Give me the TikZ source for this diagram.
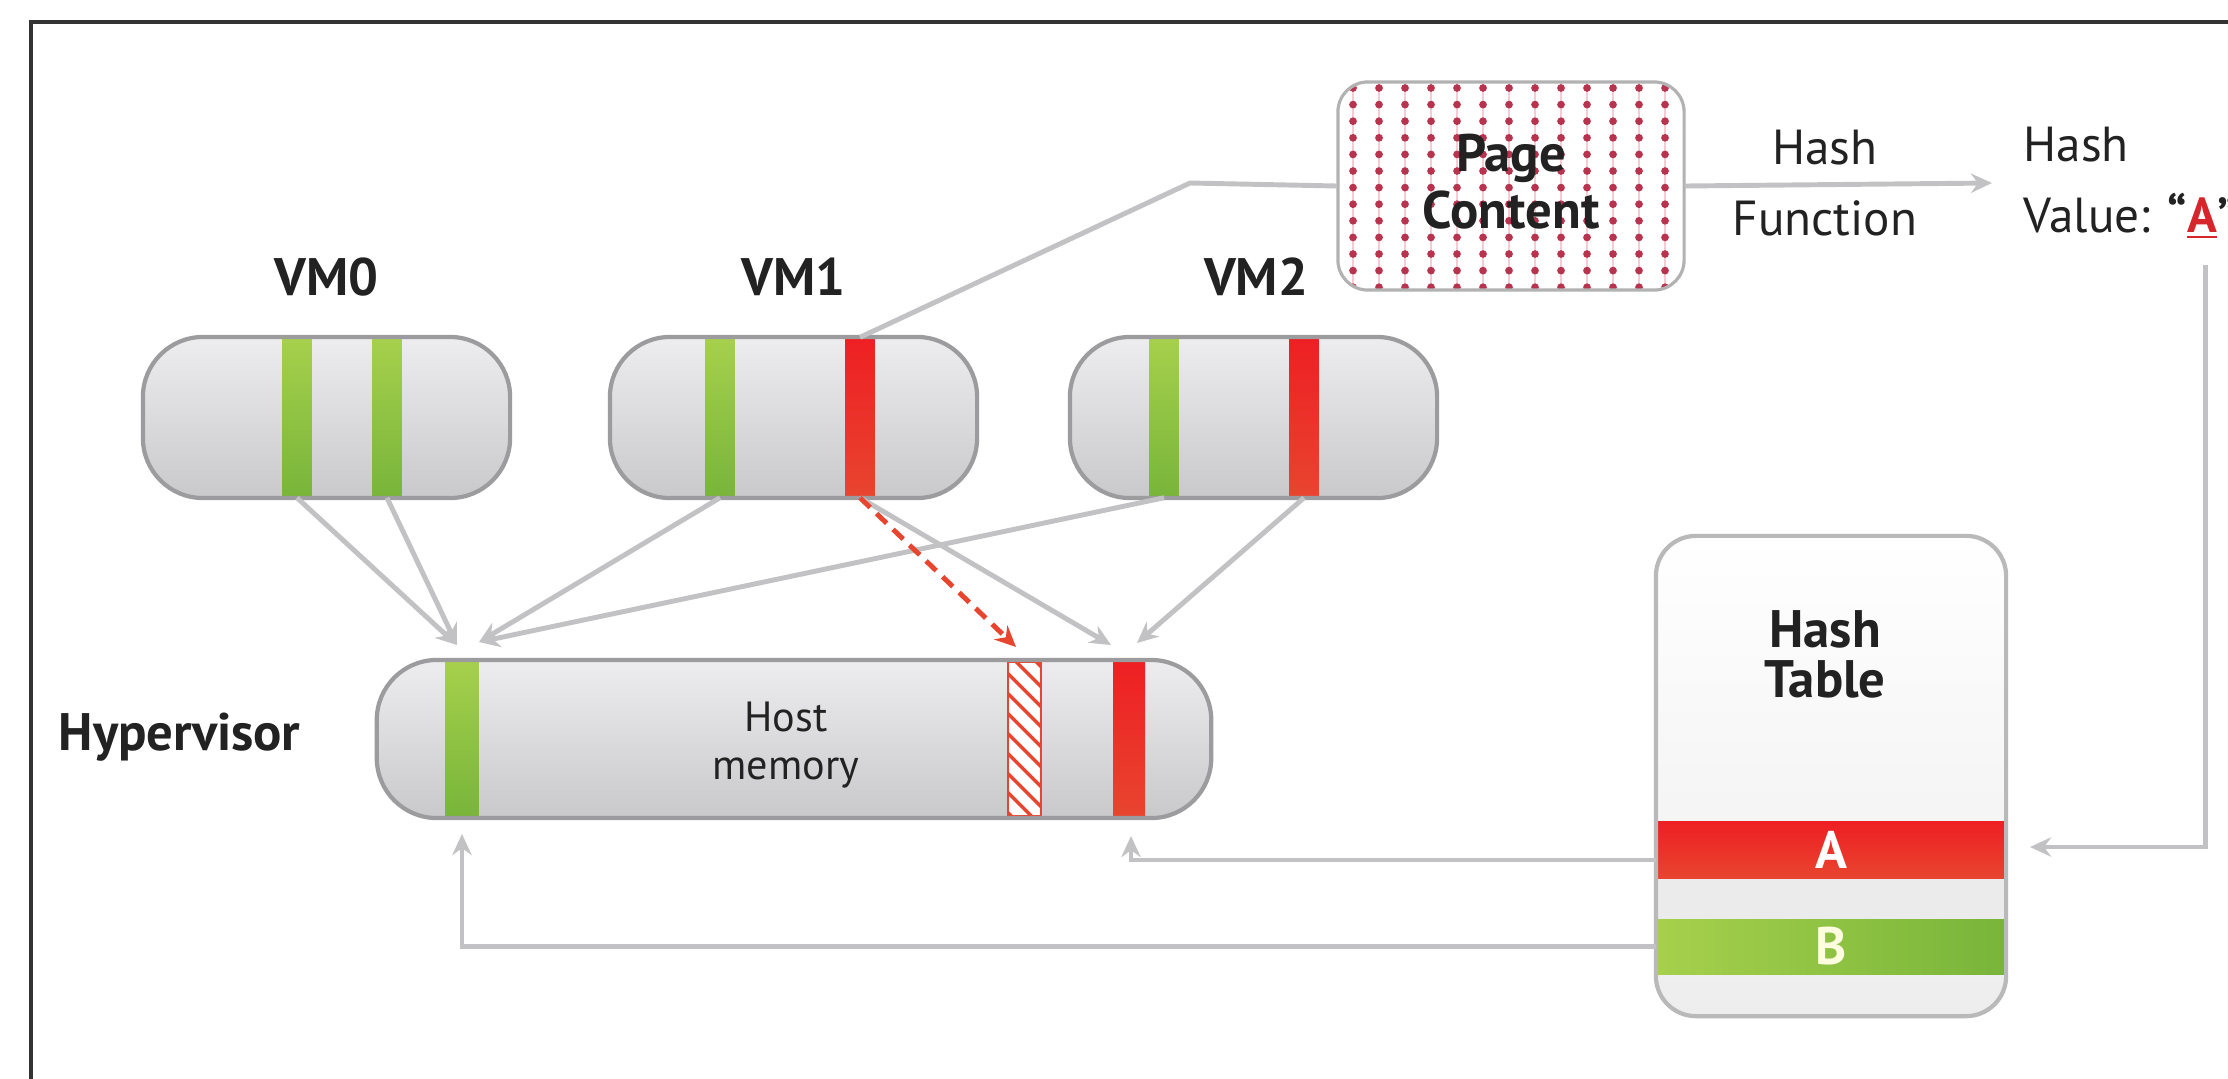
\documentclass[tikz,border=0pt]{standalone}
\usepackage{fontspec}
\setmainfont{PT Sans}
\usetikzlibrary{arrows.meta,patterns.meta,calc}
\definecolor{lineGray}{HTML}{C2C2C4}
\definecolor{boxBorder}{HTML}{9C9C9E}
\definecolor{vmTop}{HTML}{EDEDEF}
\definecolor{vmBot}{HTML}{C9C9CB}
\definecolor{grTop}{HTML}{A6D04C}
\definecolor{grBot}{HTML}{78B53A}
\definecolor{rdTop}{HTML}{EE1F23}
\definecolor{rdBot}{HTML}{E8452F}
\definecolor{dotRed}{HTML}{B8334E}
\definecolor{dotPink}{HTML}{F6CBD3}
\definecolor{txt}{HTML}{222222}
\definecolor{hashRed}{HTML}{D7262B}
\definecolor{frameCol}{HTML}{333333}
\begin{document}
\begin{tikzpicture}[x=0.01cm,y=-0.01cm,
  vmfill/.style={rectangle, rounded corners=0.6cm, minimum width=3.67cm, minimum height=1.61cm, top color=vmTop, bottom color=vmBot, draw=none, inner sep=0pt},
  vmline/.style={rectangle, rounded corners=0.6cm, minimum width=3.67cm, minimum height=1.61cm, draw=boxBorder, line width=1.2pt, inner sep=0pt},
  hmfill/.style={vmfill, minimum width=8.34cm, minimum height=1.58cm},
  hmline/.style={vmline, minimum width=8.34cm, minimum height=1.58cm},
  gstripe/.style={rectangle, minimum width=0.29cm, minimum height=1.59cm, top color=grTop, bottom color=grBot, draw=none, inner sep=0pt},
  rstripe/.style={rectangle, minimum width=0.29cm, minimum height=1.59cm, top color=rdTop, bottom color=rdBot, draw=none, inner sep=0pt},
  hatchstripe/.style={rectangle, minimum width=0.33cm, minimum height=1.54cm, draw=rdBot, line width=0.8pt, inner sep=0pt,
     preaction={fill=white}, pattern={Lines[angle=-45,distance=4pt,line width=1pt]}, pattern color=rdBot},
  lbl/.style={font=\fontsize{15}{18}\selectfont\bfseries, text=txt, inner sep=0pt},
  reg/.style={font=\fontsize{14}{20.2}\selectfont, text=txt, inner sep=0pt},
  connector/.style={draw=lineGray, line width=1.4pt},
  arr/.style={connector, -{Stealth[length=6pt,width=5.5pt,inset=2pt]}},
  dasharr/.style={draw=rdBot, line width=1.4pt, dash pattern=on 4pt off 2.5pt, -{Stealth[length=6pt,width=5.5pt,inset=2pt]}},
  pcbox/.style={rectangle, rounded corners=0.3cm, minimum width=3.46cm, minimum height=2.08cm, fill=white, draw=none, inner sep=0pt},
  pcline/.style={rectangle, rounded corners=0.3cm, minimum width=3.46cm, minimum height=2.08cm, draw=gray!60, line width=0.9pt, inner sep=0pt},
  htbox/.style={rectangle, rounded corners=0.4cm, minimum width=3.5cm, minimum height=4.8cm, top color=white, bottom color=gray!14, draw=none, inner sep=0pt},
  htline/.style={rectangle, rounded corners=0.4cm, minimum width=3.5cm, minimum height=4.8cm, draw=gray!55, line width=1.2pt, inner sep=0pt},
  rowbox/.style={rectangle, minimum width=3.48cm, inner sep=0pt, draw=none, font=\fontsize{15}{18}\selectfont\bfseries}
]
\clip (0,0) rectangle (2228,1078);
\fill[white] (0,0) rectangle (2228,1078);
\draw[line width=1pt, draw=frameCol] (31,1100) -- (31,22) -- (2260,22);

% VM labels
\node[lbl, anchor=base] (lvm0) at (326.5,295) {VM0};
\node[lbl, anchor=base] (lvm1) at (793.5,295) {VM1};
\node[lbl, anchor=base] (lvm2) at (1256,295) {VM2};

% VM0
\node[vmfill] (vm0) at (326.5,417.5) {};
\node[gstripe] (vm0g1) at (297,417.5) {};
\node[gstripe] (vm0g2) at (387,417.5) {};
\node[vmline] (vm0o) at (326.5,417.5) {};
% VM1
\node[vmfill] (vm1) at (793.5,417.5) {};
\node[gstripe] (vm1g) at (720,417.5) {};
\node[rstripe] (vm1r) at (860,417.5) {};
\node[vmline] (vm1o) at (793.5,417.5) {};
% VM2
\node[vmfill] (vm2) at (1253.5,417.5) {};
\node[gstripe] (vm2g) at (1164,417.5) {};
\node[rstripe] (vm2r) at (1304,417.5) {};
\node[vmline] (vm2o) at (1253.5,417.5) {};

% Host memory
\node[lbl, anchor=base west] (hyp) at (58,750) {Hypervisor};
\node[hmfill] (hm) at (794,739) {};
\node[gstripe, minimum width=0.33cm, minimum height=1.56cm] (hmg) at (462,739) {};
\node[hatchstripe] (hmh) at (1024.5,739) {};
\node[rstripe, minimum width=0.32cm, minimum height=1.56cm] (hmr) at (1129,739) {};
\node[hmline] (hmo) at (794,739) {};
\node[font=\fontsize{12}{13.4}\selectfont, align=center, text=txt, inner sep=0pt] (hmt) at (786,745) {Host\\memory};

% Page content
\node[pcbox] (pc) at (1511,186) {};
\begin{scope}
  \clip[rounded corners=0.3cm] (1339,83) rectangle (1683,289);
  \foreach \i in {0,...,12} {
    \draw[dotPink, line width=0.7pt] (1353+26*\i,82) -- (1353+26*\i,290);
    \foreach \j in {0,...,12} {
      \fill[dotRed] (1353+26*\i,88+16.6*\j) circle (1.1pt);
    }
  }
\end{scope}
\node[pcline] (pco) at (1511,186) {};
\node[lbl, align=center, font=\fontsize{15}{16.2}\selectfont\bfseries] (pct) at (1511,182) {Page\\Content};

% Hash function / value labels
\node[reg, align=center] (hf) at (1825,183) {Hash\\Function};
\node[reg, align=left, anchor=west] (hv) at (2023,183) {Hash\\Value: \textbf{“\textcolor{hashRed}{\underline{A}}”}};

% Hash table
\node[htbox] (ht) at (1831,776) {};
\node[rowbox, minimum height=0.58cm, top color=rdTop, bottom color=rdBot, text=white] (rowA) at (1831,850) {A};
\node[rowbox, minimum height=0.40cm, fill=gray!16] (rowG) at (1831,899) {};
\node[rowbox, minimum height=0.55cm, left color=grTop, right color=grBot, text=yellow!12] (rowB) at (1831,946.5) {B};
\node[htline] (hto) at (1831,776) {};
\node[lbl, align=center, font=\fontsize{15}{14.2}\selectfont\bfseries] (htl) at (1825,654) {Hash\\Table};

% coordinates
\coordinate (kVM1) at (1190,183);
\coordinate (tHV) at (1992,183);
\coordinate (vTop) at (2205,265);
\coordinate (tA) at (2030,847);
\coordinate (tG1) at (457,645);
\coordinate (tG2) at (479,642);
\coordinate (tR1) at (1111,645);
\coordinate (tR2) at (1137,643);
\coordinate (tH) at (1016,647);
\coordinate (tRb) at (1131,836);
\coordinate (tGb) at (462,834);

% connectors
\draw[connector] (vm1r.north) -- (kVM1) -- (pc.west);
\draw[arr] (pc.east) -- (tHV);
\draw[arr] (vTop) |- (tA);
\draw[arr] ([yshift=-0.1cm]rowA.west) -| (tRb);
\draw[arr] (rowB.west) -| (tGb);
\draw[arr] (vm0g1.south) -- (tG1);
\draw[arr] (vm0g2.south) -- (tG1);
\draw[arr] (vm1g.south) -- (tG2);
\draw[arr] (vm2g.south) -- (tG2);
\draw[arr] (vm1r.south) -- (tR1);
\draw[arr] (vm2r.south) -- (tR2);
\draw[dasharr] (vm1r.south) -- (tH);
\end{tikzpicture}
\end{document}
